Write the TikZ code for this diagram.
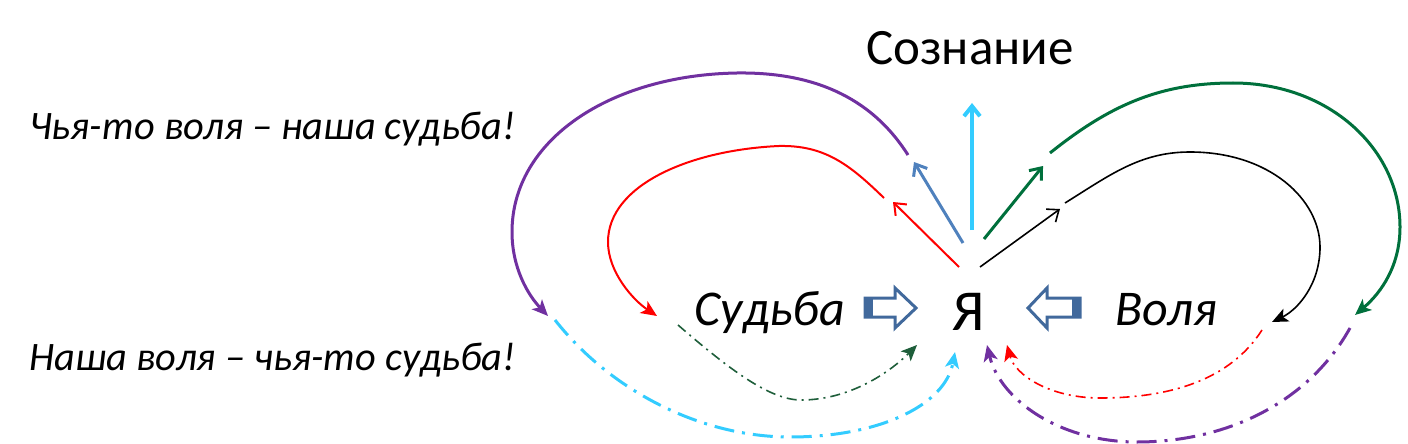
\documentclass[tikz,border=0pt]{standalone}
\usepackage{fontspec}
\setmainfont{Carlito}
\usepackage{xcolor}
\usetikzlibrary{arrows.meta}
\definecolor{purp}{HTML}{7030A0}
\definecolor{steel}{HTML}{4F81BD}
\definecolor{sky}{HTML}{33CCFF}
\definecolor{grn}{HTML}{00703C}
\definecolor{dgrn}{HTML}{1E5E3A}
\definecolor{blockblue}{HTML}{41699C}

\begin{document}
\begin{tikzpicture}[x=0.5pt,y=-0.5pt,
  openarr/.style={-{Straight Barb[length=5pt,width=8pt]}},
  curvearr/.style={-{Stealth[length=8pt,width=7pt,inset=2pt]}},
  dd/.style={dash pattern=on 10pt off 4pt on 1.5pt off 4pt},
  ddthin/.style={dash pattern=on 5pt off 2.5pt on 1pt off 2.5pt},
  block/.style={draw=blockblue,line width=1.5pt,fill=white,line join=miter}]
\useasboundingbox (0,0) rectangle (1408,444);
% texts
\node[anchor=base,inner sep=0,font=\fontsize{25.5}{30}\selectfont] (soz) at (970,65) {Сознание};
\node[anchor=base west,inner sep=0,font=\itshape\fontsize{20.2}{24}\selectfont] (chya) at (29,140) {Чья-то воля \textendash{} наша судьба!};
\node[anchor=base west,inner sep=0,font=\itshape\fontsize{20.2}{24}\selectfont] (nasha) at (29,370) {Наша воля \textendash{} чья-то судьба!};
\node[anchor=base,inner sep=0,font=\itshape\fontsize{25}{30}\selectfont] (sud) at (770,325) {Судьба};
\node[anchor=base,inner sep=0,font=\fontsize{29}{32}\selectfont] (ya) at (969,330) {Я};
\node[anchor=base,inner sep=0,font=\itshape\fontsize{25}{30}\selectfont] (vol) at (1166,325) {Воля};
% block arrows
\draw[block](865,298)--(895,298)--(895,288)--(916,308)--(895,328)--(895,317)--(865,317)--cycle;
\fill[blockblue](865,298) rectangle (873,317);
\draw[block](1080,298)--(1047,298)--(1047,288)--(1028,308)--(1047,328)--(1047,317)--(1080,317)--cycle;
\fill[blockblue](1072,298) rectangle (1080,317);
% ends of the arrows round Я
\coordinate (stA) at (963,243);
\coordinate (stB) at (914,162);
\coordinate (rdA) at (959,267);
\coordinate (rdB) at (893,202);
\coordinate (skA) at (972,230);
\coordinate (skB) at (972,103);
\coordinate (gnA) at (984,239);
\coordinate (gnB) at (1043,166);
\coordinate (bkA) at (980,267);
\coordinate (bkB) at (1060,209);
\draw[openarr,steel,line width=1.5pt](stA)--(stB);
\draw[openarr,red,line width=1pt](rdA)--(rdB);
\draw[openarr,sky,line width=2pt](skA)--(skB);
\draw[openarr,grn,line width=1.5pt](gnA)--(gnB);
\draw[openarr,black,line width=0.8pt](bkA)--(bkB);
% upper loops
\draw[curvearr,purp,line width=1.5pt](908,155)..controls(870,95)and(810,72)..(737,73)
  ..controls(610,75)and(512,140)..(512,232)..controls(512,268)and(528,295)..(548,316);
\draw[curvearr,red,line width=1pt](884,198)..controls(850,165)and(825,145)..(779,146)
  ..controls(690,150)and(608,185)..(608,242)..controls(608,272)and(633,300)..(657,316);
\draw[curvearr,grn,line width=1.5pt](1050,153)..controls(1110,105)and(1160,83)..(1233,83)
  ..controls(1330,83)and(1400,150)..(1400,227)..controls(1400,265)and(1382,292)..(1355,315);
\draw[curvearr,black,line width=0.8pt](1065,203)..controls(1110,175)and(1140,152)..(1190,152)
  ..controls(1270,152)and(1320,200)..(1320,247)..controls(1320,285)and(1297,310)..(1272,322);
% lower loops
\draw[curvearr,dgrn,ddthin,line width=0.8pt](678,325)..controls(730,370)and(770,400)..(801,400)
  ..controls(850,400)and(890,372)..(917,345);
\draw[curvearr,sky,dd,line width=1.5pt](555,320)..controls(610,390)and(700,437)..(790,437)
  ..controls(880,437)and(945,405)..(955,352);
\draw[curvearr,red,ddthin,line width=0.8pt](1262,330)..controls(1230,380)and(1170,398)..(1100,398)
  ..controls(1050,398)and(1015,375)..(1007,345);
\draw[curvearr,purp,dd,line width=1.5pt](1350,328)..controls(1310,400)and(1230,442)..(1137,442)
  ..controls(1060,442)and(1000,400)..(987,345);
\end{tikzpicture}
\end{document}
